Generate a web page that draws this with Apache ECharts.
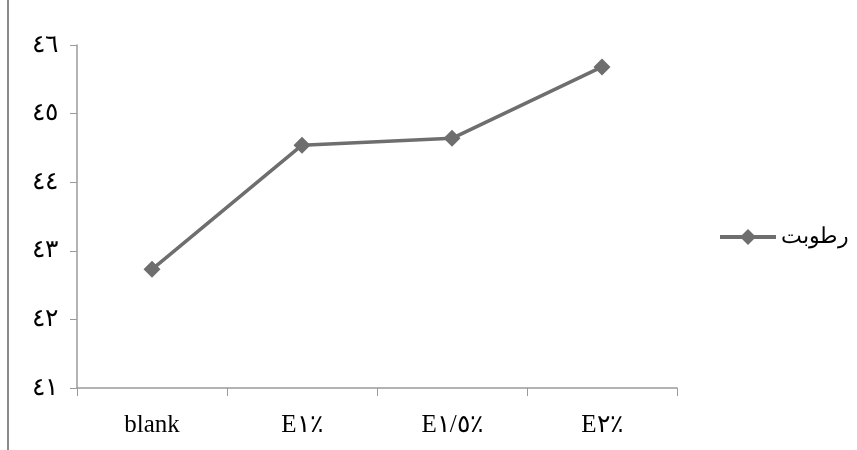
<!DOCTYPE html>
<html>
<head>
<meta charset="utf-8">
<script src="https://cdn.jsdelivr.net/npm/echarts@6/dist/echarts.min.js"></script>
<style>
  html, body { margin: 0; padding: 0; background: #fff; }
  #chart { width: 857px; height: 450px; }
</style>
</head>
<body>
<div id="chart"></div>
<script>
// data
const categories = ['blank', 'E١٪', 'E١/٥٪', 'E٢٪'];
const moisture = [42.73, 44.54, 44.64, 45.68];
const seriesName = 'رطوبت';
const yMin = 41, yMax = 46, yStep = 1;

const toArabicDigits = v => String(v).replace(/\d/g, d => '٠١٢٣٤٥٦٧٨٩'[d]);

const chart = echarts.init(document.getElementById('chart'));
const font = "'Liberation Serif', 'DejaVu Serif', serif";

chart.setOption({
  animation: false,
  graphic: [{
    type: 'line',
    shape: { x1: 8, y1: 0, x2: 8, y2: 450 },
    style: { stroke: '#8a8a8a', lineWidth: 2 }
  }],
  grid: { left: 77, right: 180, top: 45, bottom: 62 },
  legend: {
    left: 713,
    top: 221,
    itemWidth: 56,
    itemHeight: 20,
    itemGap: 8,
    data: [seriesName],
    lineStyle: { width: 4 },
    textStyle: { fontFamily: font, fontSize: 22, color: '#000' }
  },
  xAxis: {
    type: 'category',
    data: categories,
    boundaryGap: true,
    axisLine: { lineStyle: { color: '#9a9a9a', width: 1.5 } },
    axisTick: { show: true, length: 8, lineStyle: { color: '#9a9a9a' } },
    axisLabel: { fontFamily: font, fontSize: 25, color: '#000', margin: 25 }
  },
  yAxis: {
    type: 'value',
    min: yMin,
    max: yMax,
    interval: yStep,
    splitLine: { show: false },
    axisLine: { show: true, lineStyle: { color: '#9a9a9a', width: 1.5 } },
    axisTick: { show: true, length: 7, lineStyle: { color: '#9a9a9a' } },
    axisLabel: {
      fontFamily: font, fontSize: 25, color: '#000', margin: 19,
      formatter: v => toArabicDigits(v)
    }
  },
  series: [{
    name: seriesName,
    type: 'line',
    data: moisture,
    symbol: 'diamond',
    symbolSize: 17,
    lineStyle: { color: '#6e6e6e', width: 3.5 },
    itemStyle: { color: '#6e6e6e' }
  }]
});
</script>
</body>
</html>
